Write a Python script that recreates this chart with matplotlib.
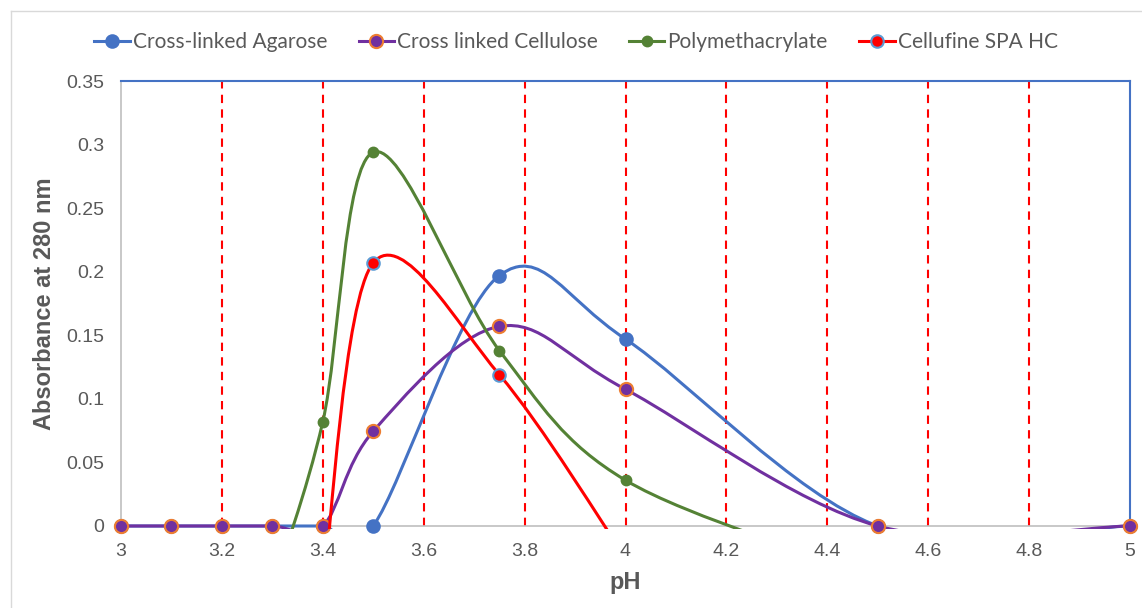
import numpy as np
import matplotlib.pyplot as plt
from matplotlib.path import Path
from matplotlib.patches import PathPatch, Rectangle
from matplotlib.lines import Line2D

# data (hidden points below 0 are estimates)
ph_agarose = [3.0, 3.1, 3.2, 3.3, 3.4, 3.5, 3.75, 4.0, 4.5, 5.0]
abs_agarose = [0, 0, 0, 0, 0, 0, 0.197, 0.147, 0, 0]

ph_cellulose = [3.0, 3.1, 3.2, 3.3, 3.4, 3.5, 3.75, 4.0, 4.5, 5.0]
abs_cellulose = [0, 0, 0, 0, 0, 0.0745, 0.157, 0.1075, 0, 0]

ph_polymeth = [3.3, 3.4, 3.5, 3.75, 4.0, 4.5]
abs_polymeth = [-0.05, 0.082, 0.294, 0.138, 0.036, -0.04]

ph_cellufine = [3.4, 3.5, 3.75, 4.0]
abs_cellufine = [-0.05, 0.207, 0.119, -0.025]

labels = ["Cross-linked Agarose", "Cross linked Cellulose",
          "Polymethacrylate", "Cellufine SPA HC"]

x_ticks = [3, 3.2, 3.4, 3.6, 3.8, 4, 4.2, 4.4, 4.6, 4.8, 5]
x_ticklabels = ["3", "3.2", "3.4", "3.6", "3.8", "4", "4.2", "4.4", "4.6", "4.8", "5"]
y_ticks = [0, 0.05, 0.1, 0.15, 0.2, 0.25, 0.3, 0.35]
y_ticklabels = ["0", "0.05", "0.1", "0.15", "0.2", "0.25", "0.3", "0.35"]

BLUE = "#4472C4"
PURPLE = "#7030A0"
ORANGE = "#ED7D31"
GREEN = "#548235"
RED = "#FF0000"
LIGHTBLUE = "#5B9BD5"
GREY_TXT = "#595959"


# Excel style smoothed line: cubic bezier through the points
def smooth_path(x, y):
    pts = np.column_stack([x, y]).astype(float)
    n = len(pts)
    verts = [pts[0]]
    codes = [Path.MOVETO]
    for i in range(n - 1):
        p0 = pts[max(i - 1, 0)]
        p1 = pts[i]
        p2 = pts[i + 1]
        p3 = pts[min(i + 2, n - 1)]
        verts += [p1 + (p2 - p0) / 6, p2 - (p3 - p1) / 6, p2]
        codes += [Path.CURVE4] * 3
    return Path(verts, codes)


fig = plt.figure(figsize=(11.42, 6.08), dpi=100)
ax = fig.add_axes([121 / 1142, 1 - 526 / 608, 1009 / 1142, 445 / 608])

# clip a bit below zero so lines lying on the axis are drawn whole
clip = Rectangle((0, -0.006), 1, 1.012, transform=ax.transAxes,
                 facecolor="none", edgecolor="none")
ax.add_patch(clip)

series = [
    (ph_agarose, abs_agarose, BLUE, BLUE, BLUE, 9),
    (ph_cellulose, abs_cellulose, PURPLE, PURPLE, ORANGE, 9.5),
    (ph_polymeth, abs_polymeth, GREEN, GREEN, GREEN, 7),
    (ph_cellufine, abs_cellufine, RED, RED, LIGHTBLUE, 9),
]

handles = []
for i, (xs, ys, col, mfc, mec, ms) in enumerate(series):
    patch = PathPatch(smooth_path(xs, ys), facecolor="none", edgecolor=col,
                      lw=2.2, zorder=3 + i, capstyle="round")
    ax.add_patch(patch)
    patch.set_clip_path(clip)
    xv = np.array(xs)
    yv = np.array(ys)
    keep = yv >= 0
    ax.plot(xv[keep], yv[keep], ls="none", marker="o", ms=ms, mfc=mfc,
            mec=mec, mew=1.5, clip_on=False, zorder=3.5 + i)
    handles.append(Line2D([], [], color=col, lw=2.2, marker="o", ms=ms,
                          mfc=mfc, mec=mec, mew=1.5))

ax.set_xlim(3, 5)
ax.set_ylim(0, 0.35)
ax.set_xticks(x_ticks)
ax.set_xticklabels(x_ticklabels)
ax.set_yticks(y_ticks)
ax.set_yticklabels(y_ticklabels)
ax.tick_params(length=0, labelsize=14, labelcolor=GREY_TXT, pad=12,
               labelfontfamily="Liberation Sans")

ax.xaxis.grid(True, color=RED, ls=(0, (4, 3)), lw=1.5)
ax.set_axisbelow(True)
gl = ax.get_xgridlines()
gl[0].set_visible(False)
gl[-1].set_visible(False)

for s in ["left", "bottom"]:
    ax.spines[s].set_color("#BFBFBF")
    ax.spines[s].set_linewidth(1.2)
for s in ["top", "right"]:
    ax.spines[s].set_color(BLUE)
    ax.spines[s].set_linewidth(1.5)

ax.set_xlabel("pH", fontsize=17, fontweight="bold", color=GREY_TXT,
              family="Liberation Sans", va="center")
ax.xaxis.set_label_coords(0.5, -56 / 445)
ax.set_ylabel("Absorbance at 280 nm", fontsize=17, fontweight="bold",
              color=GREY_TXT, family="Liberation Sans", va="center")
ax.yaxis.set_label_coords(-76 / 1009, 0.5)

fig.legend(handles, labels, loc="center", ncol=4,
           bbox_to_anchor=(576 / 1142, 1 - 42 / 608), frameon=False,
           prop={"family": "Lato", "size": 15}, handlelength=1.7,
           handletextpad=0.15, columnspacing=1.5, labelcolor=GREY_TXT)

# thin grey chart border (top and left visible in the crop)
fig.add_artist(Line2D([11 / 1142, 1], [1 - 11 / 608, 1 - 11 / 608],
                      transform=fig.transFigure, color="#D9D9D9", lw=1))
fig.add_artist(Line2D([11 / 1142, 11 / 1142], [0, 1 - 11 / 608],
                      transform=fig.transFigure, color="#D9D9D9", lw=1))

fig.savefig("out.png", dpi=100)
